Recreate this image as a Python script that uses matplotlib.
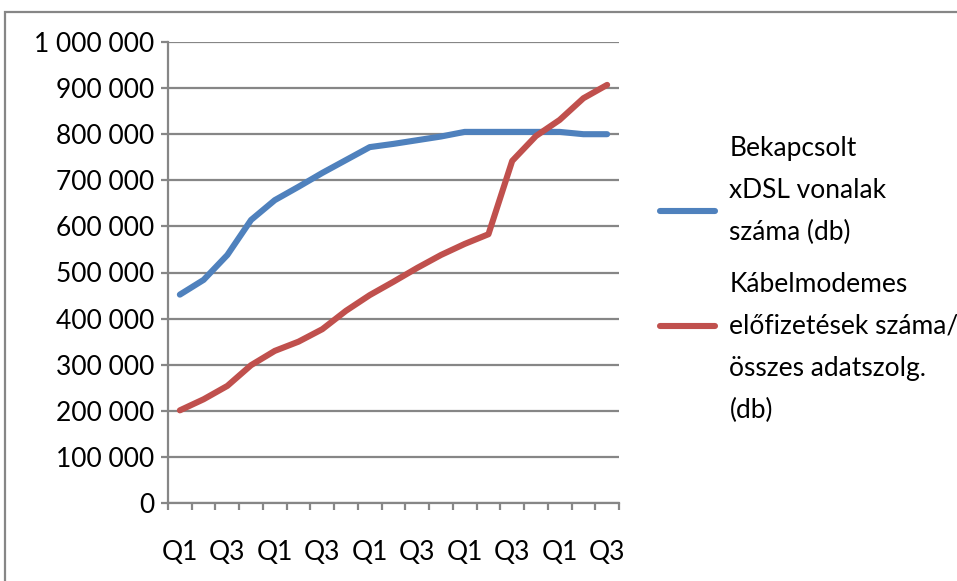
import numpy as np
import matplotlib.pyplot as plt
from matplotlib.patches import Rectangle

# adatok: negyedéves értékek (19 negyedév)
quarters = ["Q1", "Q2", "Q3", "Q4"] * 4 + ["Q1", "Q2", "Q3"]

xdsl = [452000, 484000, 538000, 614000, 657000, 686000, 716000, 744000,
        772000, 779000, 787000, 795000, 805000, 805000, 805000, 805000,
        805000, 800000, 800000]

kabel = [201000, 225000, 254000, 299000, 330000, 350000, 377000, 417000,
         451000, 480000, 510000, 538000, 562000, 583000, 742000, 796000,
         831000, 878000, 907000]

labels = ["Bekapcsolt\nxDSL vonalak\nszáma (db)",
          "Kábelmodemes\nelőfizetések száma/\nösszes adatszolg.\n(db)"]

yticks = np.arange(0, 1000001, 100000)

plt.rcParams["font.family"] = ["Lato", "DejaVu Sans"]
plt.rcParams["font.size"] = 19

W, H = 957, 581
fig = plt.figure(figsize=(W / 100, H / 100), dpi=100)
ax = fig.add_axes([168 / W, 1 - 503 / H, 451 / W, 461 / H])

grid_c = "#868686"
x = np.arange(len(quarters))

ax.plot(x, xdsl, color="#4F81BD", linewidth=4.4, solid_capstyle="round",
        solid_joinstyle="round", label=labels[0])
ax.plot(x, kabel, color="#C0504D", linewidth=4.4, solid_capstyle="round",
        solid_joinstyle="round", label=labels[1])

ax.set_xlim(-0.5, len(quarters) - 0.5)
ax.set_ylim(0, 1000000)

ax.set_yticks(yticks)
ax.set_yticklabels([f"{v:,}".replace(",", " ") for v in yticks])
ax.yaxis.grid(True, color=grid_c, linewidth=1.6)
ax.set_axisbelow(True)

ax.set_xticks(x[::2])
ax.set_xticklabels(quarters[::2])
ax.set_xticks(np.arange(-0.5, len(quarters), 1), minor=True)

ax.tick_params(axis="x", which="major", length=0, pad=27)
ax.tick_params(axis="x", which="minor", length=5, width=1.6, color=grid_c,
               direction="out")
ax.tick_params(axis="y", length=5, width=1.6, color=grid_c, pad=5)

for side in ["top", "right"]:
    ax.spines[side].set_visible(False)
for side in ["left", "bottom"]:
    ax.spines[side].set_color(grid_c)
    ax.spines[side].set_linewidth(1.6)

leg = ax.legend(loc="upper left", bbox_to_anchor=(649 / W, 1 - 125 / H),
                bbox_transform=fig.transFigure, frameon=False,
                handlelength=2.1, handletextpad=0.55, labelspacing=1.0,
                borderaxespad=0)
for t in leg.get_texts():
    t.set_linespacing(1.86)

# jelmagyarázat vonalainak függőleges helye (Excel-szerű)
for line, dy in zip(leg.get_lines(), [-14.4, 15.8]):
    line.set_ydata(np.asarray(line.get_ydata()) + dy)

# külső keret
fig.patches.append(Rectangle((5 / W, -0.1), 1.2, 1 - 12 / H + 0.1,
                             transform=fig.transFigure, fill=False,
                             edgecolor=grid_c, linewidth=1.6))

fig.savefig("out.png", dpi=100)
